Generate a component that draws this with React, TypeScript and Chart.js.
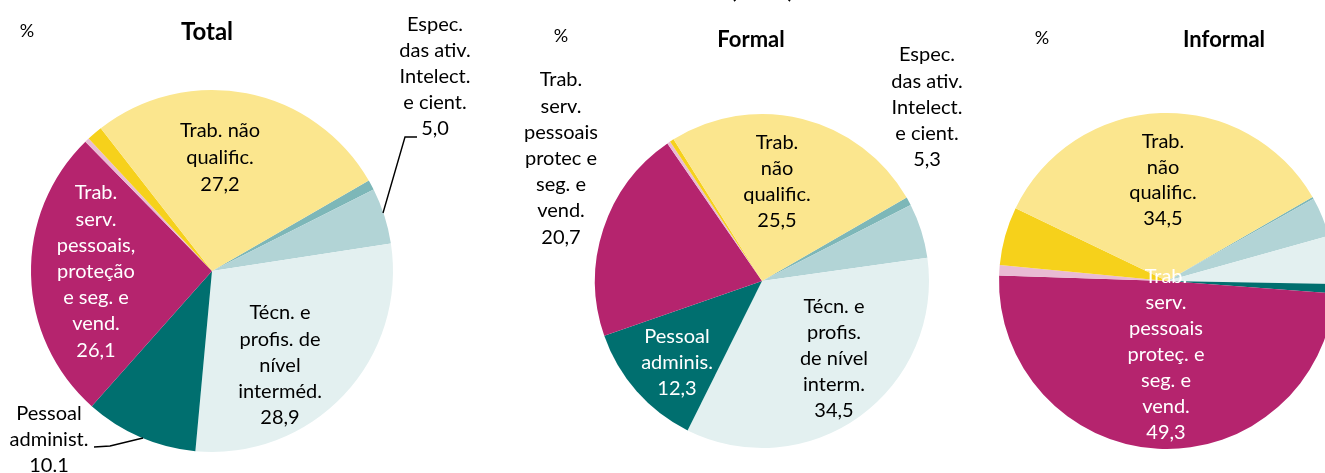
import React, { useEffect, useRef } from "react";
import { Chart, registerables } from "chart.js";

Chart.register(...registerables);

const FONT = "Lato, 'Open Sans', sans-serif";

// ---- data ----
const categories = [
  "Dirigentes",
  "Espec. das ativ. intelect. e cient.",
  "Técn. e profis. de nível intermédio",
  "Pessoal administrativo",
  "Trab. serv. pessoais, proteção e seg. e vend.",
  "Trab. agropecuários",
  "Trab. qualificados",
  "Trab. não qualificados",
];
const totalValues = [0.9, 5.0, 28.9, 10.1, 26.1, 0.4, 1.4, 27.2];
const formalValues = [0.8, 5.3, 34.5, 12.3, 20.7, 0.3, 0.4, 25.5];
const informalValues = [0.2, 3.8, 4.6, 0.9, 49.3, 1.0, 5.6, 34.5];
const sliceColors = [
  "#7DB7B8",
  "#B2D4D6",
  "#E3F0F0",
  "#006F6F",
  "#B5246E",
  "#E9BBD4",
  "#F6D11B",
  "#FBE68E",
];
const panelTitles = ["Total", "Formal", "Informal"];
const unitLabel = "%";

const totalLines: (string[] | null)[] = [
  null,
  ["Espec.", "das ativ.", "Intelect.", "e cient."],
  ["Técn. e", "profis. de", "nível", "interméd."],
  ["Pessoal", "administ."],
  ["Trab.", "serv.", "pessoais,", "proteção", "e seg. e", "vend."],
  null,
  null,
  ["Trab. não", "qualific."],
];
const formalLines: (string[] | null)[] = [
  null,
  ["Espec.", "das ativ.", "Intelect.", "e cient."],
  ["Técn. e", "profis.", "de nível", "interm."],
  ["Pessoal", "adminis."],
  ["Trab.", "serv.", "pessoais", "protec e", "seg. e", "vend."],
  null,
  null,
  ["Trab.", "não", "qualific."],
];
const informalLines: (string[] | null)[] = [
  null,
  null,
  null,
  null,
  ["Trab.", "serv.", "pessoais", "proteç. e", "seg. e", "vend."],
  null,
  null,
  ["Trab.", "não", "qualific."],
];

// ---- layout (positions / styles) ----
const BLACK = "#000";
const WHITE = "#fff";
const H = 473;

const panels = [
  {
    values: totalValues,
    lines: totalLines,
    left: 0,
    width: 490,
    cx: 212,
    cy: 271,
    r: 181,
    percentPos: [27, 31],
    titlePos: [207, 32],
    titleSize: 24,
    labels: [
      { index: 7, dx: 8, dy: -140, lh: 27, color: BLACK },
      { index: 1, dx: 223, dy: -246, lh: 25.8, color: BLACK },
      { index: 4, dx: -116, dy: -78, lh: 26.2, color: WHITE },
      { index: 2, dx: 68, dy: 42, lh: 26.2, color: BLACK },
      { index: 3, dx: -163, dy: 143, lh: 26, color: BLACK, sep: "." },
    ],
    leaders: [
      [[171, -58], [193, -134], [205, -134]],
      [[-118, 176], [-102, 175], [-69, 167]],
    ],
  },
  {
    values: formalValues,
    lines: formalLines,
    left: 490,
    width: 490,
    cx: 272,
    cy: 281,
    r: 167,
    percentPos: [71, 36],
    titlePos: [261, 40],
    titleSize: 22,
    topText: "(2022)",
    topPos: [272, -2],
    labels: [
      { index: 4, dx: -201, dy: -201, lh: 26.2, color: BLACK },
      { index: 7, dx: 15, dy: -138, lh: 25.7, color: BLACK },
      { index: 1, dx: 165, dy: -226, lh: 26.2, color: BLACK },
      { index: 3, dx: -85, dy: 56, lh: 26, color: WHITE },
      { index: 2, dx: 72, dy: 26, lh: 26, color: BLACK },
    ],
    leaders: [],
  },
  {
    values: informalValues,
    lines: informalLines,
    left: 980,
    width: 380,
    cx: 187,
    cy: 281,
    r: 168,
    percentPos: [62, 38],
    titlePos: [244, 40],
    titleSize: 22,
    labels: [
      { index: 7, dx: -4, dy: -139, lh: 25.4, color: BLACK },
      { index: 4, dx: -1, dy: -4, lh: 26, color: WHITE },
    ],
    leaders: [],
  },
];

function fmt(v: number, sep = ","): string {
  return v.toFixed(1).replace(".", sep);
}

const overlayPlugin = {
  id: "overlay",
  afterDraw(chart: any, _args: any, opts: any) {
    const ctx: CanvasRenderingContext2D = chart.ctx;
    const meta = chart.getDatasetMeta(0);
    const arc: any = meta.data[0];
    if (!arc) return;
    const cx = arc.x;
    const cy = arc.y;
    const values = chart.data.datasets[0].data as number[];
    ctx.save();
    ctx.textAlign = "center";
    ctx.textBaseline = "middle";
    ctx.fillStyle = BLACK;
    ctx.font = `18px ${FONT}`;
    ctx.fillText(unitLabel, opts.percentPos[0], opts.percentPos[1]);
    ctx.font = `bold ${opts.titleSize}px ${FONT}`;
    ctx.fillText(opts.title, opts.titlePos[0], opts.titlePos[1]);
    if (opts.topText) {
      ctx.textBaseline = "alphabetic";
      ctx.fillText(opts.topText, opts.topPos[0], opts.topPos[1]);
      ctx.textBaseline = "middle";
    }
    ctx.strokeStyle = BLACK;
    ctx.lineWidth = 1.4;
    for (const pts of opts.leaders) {
      ctx.beginPath();
      pts.forEach((p: number[], i: number) => {
        if (i === 0) ctx.moveTo(cx + p[0], cy + p[1]);
        else ctx.lineTo(cx + p[0], cy + p[1]);
      });
      ctx.stroke();
    }
    ctx.font = `20px ${FONT}`;
    for (const lab of opts.labels) {
      const base = opts.lines[lab.index];
      if (!base) continue;
      const lines = [...base, fmt(values[lab.index], lab.sep)];
      ctx.fillStyle = lab.color;
      lines.forEach((t: string, i: number) => {
        ctx.fillText(t, cx + lab.dx, cy + lab.dy + i * lab.lh);
      });
    }
    ctx.restore();
  },
};

function PiePanel({ p, title }: { p: any; title: string }) {
  const ref = useRef<HTMLCanvasElement | null>(null);
  useEffect(() => {
    if (!ref.current) return;
    const chart = new Chart(ref.current, {
      type: "pie",
      data: {
        labels: categories,
        datasets: [
          {
            data: p.values,
            backgroundColor: sliceColors,
            borderWidth: 0,
            hoverOffset: 0,
          },
        ],
      },
      options: {
        responsive: false,
        animation: false,
        events: [],
        rotation: 60,
        radius: p.r,
        layout: {
          padding: {
            left: p.cx - p.r,
            right: p.width - p.cx - p.r,
            top: p.cy - p.r,
            bottom: H - p.cy - p.r,
          },
        },
        plugins: {
          legend: { display: false },
          tooltip: { enabled: false },
          overlay: {
            title,
            titlePos: p.titlePos,
            titleSize: p.titleSize,
            percentPos: p.percentPos,
            topText: p.topText,
            topPos: p.topPos,
            labels: p.labels,
            leaders: p.leaders,
            lines: p.lines,
          },
        },
      } as any,
      plugins: [overlayPlugin as any],
    });
    return () => chart.destroy();
  }, [p, title]);
  return (
    <canvas
      ref={ref}
      width={p.width}
      height={H}
      style={{ position: "absolute", left: p.left, top: 0, width: p.width, height: H }}
    />
  );
}

export default function App() {
  return (
    <div
      style={{
        position: "absolute",
        left: 0,
        top: 0,
        width: 1325,
        height: H,
        overflow: "hidden",
        background: "#fff",
      }}
    >
      {panels.map((p, i) => (
        <PiePanel key={i} p={p} title={panelTitles[i]} />
      ))}
    </div>
  );
}
